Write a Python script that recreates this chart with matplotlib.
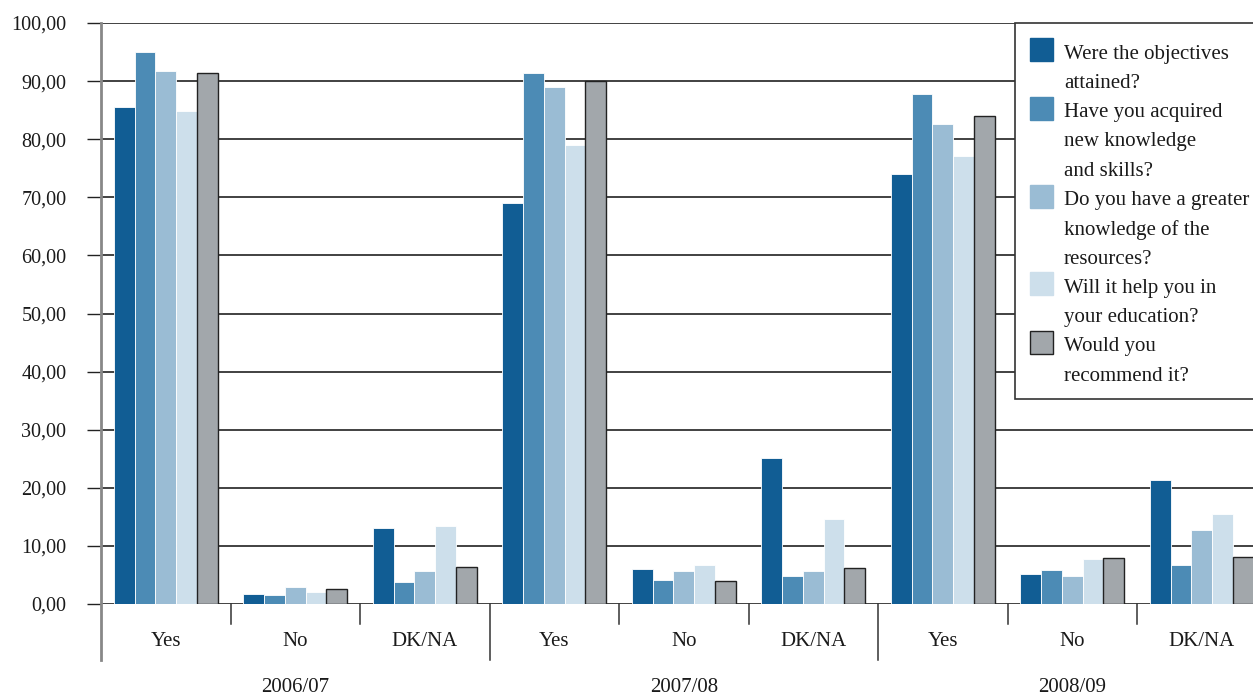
import matplotlib
matplotlib.use("Agg")
import matplotlib.pyplot as plt
from matplotlib.patches import Rectangle
import numpy as np

plt.rcParams['font.family'] = ['Liberation Serif', 'DejaVu Serif']

years = ["2006/07", "2007/08", "2008/09"]
answers = ["Yes", "No", "DK/NA"]
questions = [
    "Were the objectives\nattained?",
    "Have you acquired\nnew knowledge\nand skills?",
    "Do you have a greater\nknowledge of the\nresources?",
    "Will it help you in\nyour education?",
    "Would you\nrecommend it?",
]
# one list per question, ordered year by year: Yes, No, DK/NA
objectives = [85.5, 1.7, 13.0, 69.1, 6.0, 25.1, 74.0, 5.1, 21.3]
knowledge = [95.0, 1.6, 3.8, 91.4, 4.1, 4.8, 87.8, 5.8, 6.7]
resources = [91.7, 2.9, 5.7, 89.0, 5.6, 5.7, 82.6, 4.9, 12.8]
education = [84.9, 2.0, 13.4, 79.0, 6.7, 14.6, 77.1, 7.7, 15.5]
recommend = [91.4, 2.5, 6.3, 90.0, 3.9, 6.2, 84.0, 8.0, 8.1]
yticks = [0, 10, 20, 30, 40, 50, 60, 70, 80, 90, 100]

series = [objectives, knowledge, resources, education, recommend]
colors = ["#115d94", "#4c8bb5", "#9abcd4", "#cddfeb", "#a2a7ab"]
edges = ["#ffffff", "#ffffff", "#ffffff", "#ffffff", "#222222"]

W, H = 1253, 697
fig = plt.figure(figsize=(W / 100, H / 100), dpi=100)

# axes placed in pixel terms; the right end runs past the figure edge
left_px, right_px, top_px, bottom_px = 101, 1266.5, 23, 604
ax = fig.add_axes([left_px / W, 1 - bottom_px / H,
                   (right_px - left_px) / W, (bottom_px - top_px) / H])

n_cat = len(years) * len(answers)
x = np.arange(n_cat)
bw = 0.16
for i, (vals, c, ec) in enumerate(zip(series, colors, edges)):
    ax.bar(x + (i - 2) * bw, vals, width=bw, color=c, edgecolor=ec,
           linewidth=1.0 if i == 4 else 0.6, zorder=3)

ax.set_xlim(-0.5, n_cat - 0.5)
ax.set_ylim(0, 100)
ax.set_yticks(yticks)
ax.set_yticklabels([f"{v:.2f}".replace(".", ",") for v in yticks])
ax.tick_params(axis='y', length=10, width=1, color="#222222", pad=15,
               labelsize=14.5, labelcolor="#1a1a1a")
ax.set_xticks([])
for s in ax.spines.values():
    s.set_visible(False)
for v in yticks:
    ax.axhline(v, color="#333333", lw=1.3, zorder=1)

px = 100 / (bottom_px - top_px)  # data units per pixel
# vertical axis line, running down past the category labels
ax.plot([-0.5, -0.5], [100, -56 * px], color="#888888", lw=2,
        clip_on=False, zorder=4)
# category separators: short within a year, long between years
for k in range(1, n_cat):
    depth = 56 if k % 3 == 0 else 20
    ax.plot([k - 0.5, k - 0.5], [0, -depth * px], color="#333333", lw=1.1,
            clip_on=False)

for k in range(n_cat):
    ax.text(k, -37 * px, answers[k % 3], ha="center", va="center",
            fontsize=15, color="#1a1a1a", clip_on=False)
for j, yr in enumerate(years):
    ax.text(3 * j + 1, -84 * px, yr, ha="center", va="center",
            fontsize=15, color="#1a1a1a", clip_on=False)

# legend box drawn on the figure
def fx(p):
    return p / W

def fy(p):
    return 1 - p / H

fig.patches.append(Rectangle((fx(1015), fy(399)), fx(260), (399 - 23) / H,
                             transform=fig.transFigure, facecolor="white",
                             edgecolor="#333333", lw=1.2, zorder=10))
line_h = 29.3
row = 0
for q, c, ec in zip(questions, colors, edges):
    y0 = 54 + line_h * row
    fig.patches.append(Rectangle((fx(1030), fy(y0 + 7)), fx(23), 23 / H,
                                 transform=fig.transFigure, facecolor=c,
                                 edgecolor=ec if ec != "#ffffff" else c,
                                 lw=1.0, zorder=11))
    for ln in q.split("\n"):
        fig.text(fx(1064), fy(54 + line_h * row), ln, ha="left",
                 va="center", fontsize=15, color="#1a1a1a", zorder=12)
        row += 1

fig.savefig("out.png", dpi=100, facecolor="white")
